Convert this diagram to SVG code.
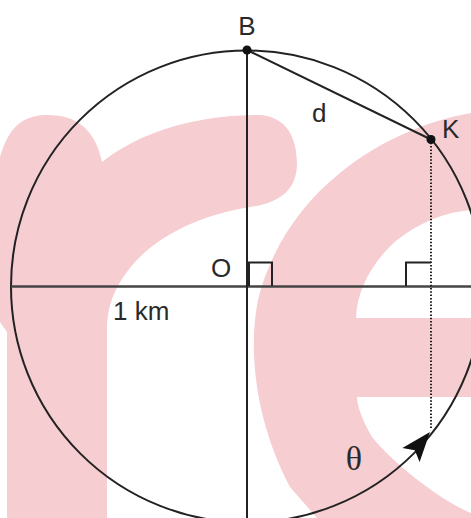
<svg xmlns="http://www.w3.org/2000/svg" width="471" height="518" viewBox="0 0 471 518">
<style>
.wm{fill:#f6cdd1;stroke:none}
.ln{fill:none;stroke:#222;stroke-width:2}
.ax{fill:none;stroke:#444;stroke-width:2.5}
.lbl{font-family:"Liberation Sans",Arial,sans-serif;font-size:26px;fill:#2a2a2a}
.gr{font-family:"Liberation Serif","Times New Roman",serif;font-size:34px;fill:#2a2a2a}
</style>
<rect width="471" height="518" fill="#fff"/>
<g id="watermark">
<path class="wm" d="M7,518 L7,332 L0,322 L0,157 C8,130 20,116 45,115 C75,114 95,128 102,162 C130,140 180,115 260,115 C285,117 297,135 297,165 C296,190 280,203 250,207 C200,215 160,235 135,262 C115,285 107,305 107,330 L107,518 Z"/>
<path class="wm" d="M471,113 C430,120 380,140 340,173 C300,205 270,250 258,300 C248,350 255,420 290,487 L317,518 L471,518 L471,513 C440,500 395,465 372,437 C362,420 357,405 357,397 L471,397 L471,318 L356,318 C357,290 372,262 397,240 C420,222 445,212 471,210 Z"/>
</g>
<g id="connectors">
<circle id="circle" class="ln" cx="247" cy="286.5" r="236"/>
<line class="ax" x1="11" y1="286.5" x2="471" y2="286.5"/>
<line class="ln" x1="247" y1="50" x2="247" y2="518"/>
<line id="chord-d" class="ln" x1="247" y1="50" x2="431" y2="139.5"/>
<line id="dotted" x1="431" y1="139.5" x2="431" y2="428" stroke="#222" stroke-width="2" stroke-dasharray="1.5 1.8"/>
<path class="ln" d="M249,286 V262.5 H272 V286"/>
<path class="ln" d="M406,286 V262.5 H431"/>
<polygon id="arrow-theta" fill="#111" points="430,432 419.6,461.9 414.8,450.3 402.4,448.1"/>
</g>
<g id="node-B"><circle cx="247" cy="50" r="4.5" fill="#111"/><text class="lbl" x="247" y="35" text-anchor="middle">B</text></g>
<g id="node-K"><circle cx="431" cy="139.5" r="4.5" fill="#111"/><text class="lbl" x="442" y="138">K</text></g>
<g id="node-O"><text class="lbl" x="221" y="277" text-anchor="middle">O</text></g>
<g id="label-d"><text class="lbl" x="312" y="122">d</text></g>
<g id="label-1km"><text class="lbl" x="113" y="320">1 km</text></g>
<g id="label-theta"><text class="gr" x="354" y="470" text-anchor="middle">θ</text></g>
</svg>
